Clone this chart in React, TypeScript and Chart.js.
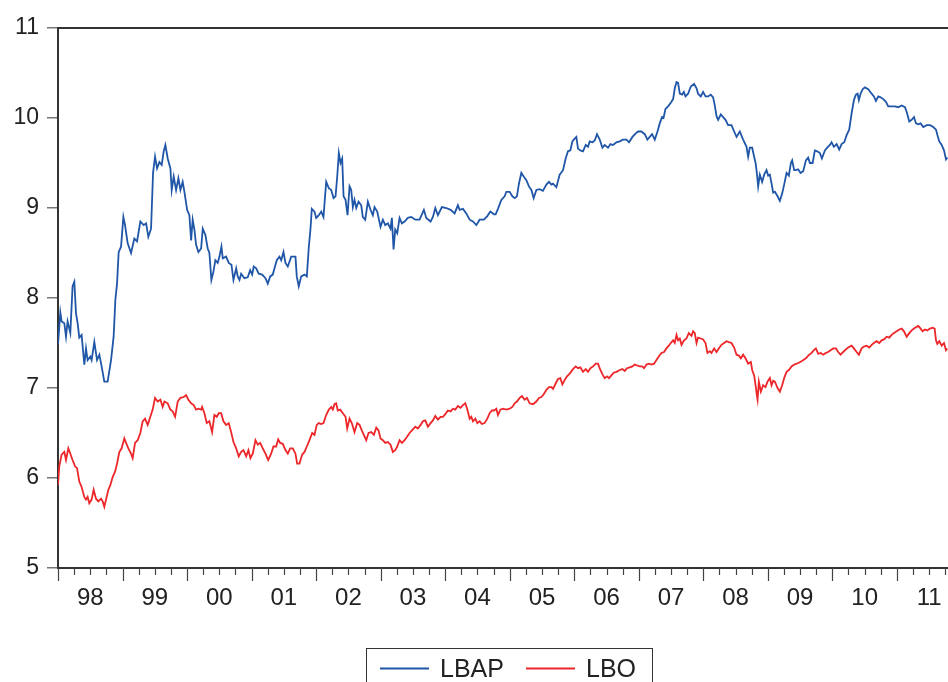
import React, { useEffect, useRef } from 'react';
import { Chart, registerables } from 'chart.js';

Chart.register(...registerables);

const START_YEAR = 1998;
const END_YEAR = 2011.792;
const YEAR_LABELS = ['98', '99', '00', '01', '02', '03', '04', '05', '06', '07', '08', '09', '10', '11'];
const Y_MIN = 5;
const Y_MAX = 11;
const SERIES_NAMES = ['LBAP', 'LBO'];
const SERIES_COLORS = ['#1f56a8', '#ec2629'];

// years since start of 1998
const LBAP_T = [
  0.000, 0.036, 0.056, 0.098, 0.124, 0.149, 0.191, 0.226, 0.253, 0.279, 0.304, 0.330, 0.366, 0.408, 0.434, 0.459,
  0.501, 0.521, 0.563, 0.605, 0.641, 0.676, 0.718, 0.769, 0.822, 0.862, 0.889, 0.915, 0.940, 0.977, 1.013, 1.039,
  1.079, 1.132, 1.183, 1.225, 1.276, 1.328, 1.365, 1.400, 1.442, 1.473, 1.504, 1.535, 1.571, 1.607, 1.638, 1.664,
  1.700, 1.742, 1.762, 1.793, 1.830, 1.866, 1.897, 1.932, 1.959, 2.001, 2.036, 2.063, 2.087, 2.114, 2.140, 2.176,
  2.218, 2.243, 2.284, 2.320, 2.346, 2.377, 2.408, 2.439, 2.475, 2.502, 2.533, 2.553, 2.605, 2.646, 2.688, 2.719,
  2.761, 2.785, 2.812, 2.838, 2.889, 2.940, 2.978, 3.009, 3.033, 3.071, 3.111, 3.164, 3.215, 3.251, 3.288, 3.328,
  3.390, 3.432, 3.459, 3.494, 3.525, 3.561, 3.614, 3.680, 3.700, 3.731, 3.769, 3.820, 3.856, 3.887, 3.913, 3.933,
  3.975, 4.001, 4.042, 4.079, 4.114, 4.156, 4.197, 4.234, 4.270, 4.301, 4.327, 4.352, 4.378, 4.404, 4.425, 4.456,
  4.487, 4.518, 4.544, 4.569, 4.595, 4.622, 4.657, 4.699, 4.724, 4.761, 4.802, 4.843, 4.879, 4.905, 4.947, 4.998,
  5.034, 5.071, 5.112, 5.153, 5.174, 5.200, 5.226, 5.257, 5.293, 5.329, 5.371, 5.422, 5.474, 5.537, 5.603, 5.670,
  5.707, 5.774, 5.810, 5.847, 5.887, 5.949, 6.017, 6.084, 6.146, 6.197, 6.224, 6.275, 6.327, 6.379, 6.430, 6.483,
  6.534, 6.601, 6.653, 6.700, 6.756, 6.782, 6.818, 6.870, 6.921, 6.948, 6.999, 7.041, 7.077, 7.112, 7.143, 7.180,
  7.216, 7.258, 7.298, 7.336, 7.371, 7.413, 7.464, 7.515, 7.568, 7.609, 7.646, 7.671, 7.723, 7.774, 7.826, 7.867,
  7.903, 7.940, 7.971, 8.007, 8.033, 8.058, 8.095, 8.136, 8.178, 8.213, 8.240, 8.282, 8.317, 8.353, 8.395, 8.437,
  8.472, 8.524, 8.561, 8.601, 8.654, 8.705, 8.756, 8.809, 8.849, 8.902, 8.953, 8.989, 9.041, 9.093, 9.134, 9.170,
  9.206, 9.248, 9.290, 9.325, 9.361, 9.383, 9.414, 9.454, 9.496, 9.532, 9.558, 9.585, 9.609, 9.636, 9.671, 9.698,
  9.724, 9.764, 9.806, 9.857, 9.895, 9.919, 9.961, 9.997, 10.034, 10.075, 10.116, 10.152, 10.178, 10.205, 10.230, 10.271,
  10.307, 10.344, 10.385, 10.437, 10.478, 10.515, 10.566, 10.617, 10.670, 10.695, 10.721, 10.757, 10.788, 10.810, 10.830, 10.850,
  10.876, 10.912, 10.943, 10.980, 11.005, 11.031, 11.058, 11.083, 11.109, 11.151, 11.186, 11.222, 11.253, 11.290, 11.326, 11.357,
  11.377, 11.408, 11.435, 11.470, 11.507, 11.548, 11.590, 11.625, 11.652, 11.694, 11.729, 11.765, 11.807, 11.838, 11.884, 11.920,
  11.962, 11.988, 12.024, 12.066, 12.106, 12.143, 12.184, 12.221, 12.261, 12.298, 12.334, 12.365, 12.391, 12.411, 12.437, 12.469,
  12.504, 12.556, 12.609, 12.644, 12.675, 12.711, 12.748, 12.789, 12.830, 12.866, 12.919, 12.970, 13.021, 13.074, 13.125, 13.151,
  13.192, 13.229, 13.265, 13.296, 13.331, 13.368, 13.409, 13.462, 13.513, 13.564, 13.606, 13.632, 13.657, 13.694, 13.730, 13.761,
  13.781,
];
const LBAP = [
  7.48, 7.84, 7.74, 7.72, 7.57, 7.74, 7.61, 8.13, 8.18, 7.83, 7.72, 7.56, 7.59, 7.26, 7.44, 7.31,
  7.35, 7.31, 7.51, 7.31, 7.37, 7.24, 7.07, 7.07, 7.31, 7.57, 7.98, 8.16, 8.51, 8.57, 8.90, 8.81,
  8.61, 8.50, 8.66, 8.63, 8.85, 8.81, 8.83, 8.68, 8.77, 9.39, 9.57, 9.44, 9.51, 9.48, 9.63, 9.70,
  9.55, 9.44, 9.20, 9.35, 9.20, 9.33, 9.20, 9.29, 9.18, 8.98, 8.92, 8.64, 8.87, 8.76, 8.59, 8.51,
  8.55, 8.77, 8.70, 8.55, 8.50, 8.20, 8.29, 8.42, 8.39, 8.46, 8.57, 8.44, 8.46, 8.39, 8.37, 8.20,
  8.33, 8.24, 8.20, 8.27, 8.22, 8.23, 8.31, 8.26, 8.35, 8.33, 8.27, 8.26, 8.22, 8.16, 8.24, 8.26,
  8.42, 8.46, 8.42, 8.51, 8.39, 8.35, 8.46, 8.46, 8.24, 8.13, 8.24, 8.26, 8.24, 8.57, 8.77, 8.99,
  8.96, 8.89, 8.92, 8.96, 8.90, 9.29, 9.22, 9.20, 9.11, 9.13, 9.35, 9.61, 9.50, 9.55, 9.13, 9.09,
  8.92, 9.24, 9.20, 9.01, 9.09, 9.00, 9.07, 9.03, 8.90, 8.87, 9.07, 8.98, 8.92, 9.01, 8.96, 8.79,
  8.87, 8.81, 8.83, 8.77, 8.89, 8.54, 8.76, 8.72, 8.89, 8.83, 8.85, 8.89, 8.90, 8.87, 8.87, 8.98,
  8.89, 8.85, 8.90, 9.00, 8.92, 9.01, 9.00, 8.98, 8.94, 9.03, 8.98, 8.99, 8.94, 8.87, 8.85, 8.81,
  8.87, 8.87, 8.91, 8.96, 8.93, 8.93, 8.99, 9.09, 9.13, 9.18, 9.18, 9.13, 9.11, 9.13, 9.27, 9.39,
  9.35, 9.31, 9.24, 9.20, 9.11, 9.20, 9.21, 9.19, 9.26, 9.29, 9.26, 9.27, 9.23, 9.37, 9.42, 9.55,
  9.63, 9.64, 9.74, 9.77, 9.79, 9.66, 9.64, 9.63, 9.70, 9.68, 9.74, 9.73, 9.75, 9.82, 9.76, 9.67,
  9.70, 9.67, 9.71, 9.70, 9.73, 9.74, 9.76, 9.76, 9.73, 9.79, 9.83, 9.85, 9.85, 9.82, 9.76, 9.79,
  9.82, 9.76, 9.85, 9.94, 10.01, 10.00, 10.10, 10.13, 10.17, 10.21, 10.33, 10.40, 10.39, 10.27, 10.26, 10.29,
  10.24, 10.27, 10.35, 10.38, 10.33, 10.27, 10.24, 10.29, 10.24, 10.24, 10.26, 10.23, 10.14, 10.02, 9.98, 10.04,
  10.01, 9.98, 9.92, 9.92, 9.85, 9.79, 9.85, 9.76, 9.68, 9.57, 9.67, 9.67, 9.57, 9.50, 9.39, 9.24,
  9.37, 9.29, 9.37, 9.42, 9.36, 9.37, 9.27, 9.17, 9.18, 9.13, 9.08, 9.16, 9.26, 9.39, 9.36, 9.50,
  9.53, 9.42, 9.42, 9.43, 9.39, 9.41, 9.53, 9.56, 9.50, 9.50, 9.64, 9.63, 9.61, 9.55, 9.64, 9.67,
  9.70, 9.73, 9.68, 9.71, 9.65, 9.71, 9.73, 9.81, 9.87, 10.05, 10.20, 10.26, 10.27, 10.20, 10.27, 10.32,
  10.34, 10.32, 10.27, 10.24, 10.19, 10.24, 10.23, 10.21, 10.18, 10.13, 10.13, 10.13, 10.12, 10.14, 10.12, 10.07,
  9.96, 9.98, 10.01, 9.94, 9.93, 9.94, 9.90, 9.92, 9.92, 9.90, 9.87, 9.80, 9.74, 9.70, 9.64, 9.54,
  9.56,
];

const LBO_T = [
  0.000, 0.020, 0.056, 0.098, 0.124, 0.160, 0.191, 0.226, 0.264, 0.295, 0.330, 0.366, 0.408, 0.434, 0.459, 0.485,
  0.521, 0.552, 0.589, 0.625, 0.667, 0.692, 0.718, 0.744, 0.780, 0.811, 0.847, 0.884, 0.915, 0.951, 0.986, 1.028,
  1.055, 1.090, 1.132, 1.157, 1.194, 1.234, 1.276, 1.312, 1.349, 1.390, 1.431, 1.467, 1.504, 1.545, 1.587, 1.622,
  1.649, 1.700, 1.742, 1.777, 1.815, 1.855, 1.897, 1.948, 1.985, 2.021, 2.063, 2.103, 2.140, 2.176, 2.218, 2.233,
  2.269, 2.305, 2.346, 2.388, 2.424, 2.460, 2.491, 2.528, 2.564, 2.605, 2.646, 2.683, 2.719, 2.761, 2.801, 2.838,
  2.874, 2.916, 2.951, 2.982, 3.018, 3.060, 3.096, 3.133, 3.173, 3.215, 3.257, 3.303, 3.339, 3.381, 3.412, 3.443,
  3.483, 3.525, 3.561, 3.598, 3.638, 3.680, 3.706, 3.742, 3.784, 3.820, 3.856, 3.897, 3.939, 3.975, 4.010, 4.042,
  4.079, 4.114, 4.156, 4.197, 4.234, 4.259, 4.285, 4.311, 4.336, 4.373, 4.414, 4.456, 4.482, 4.518, 4.553, 4.595,
  4.637, 4.673, 4.708, 4.739, 4.777, 4.812, 4.854, 4.895, 4.932, 4.967, 4.998, 5.034, 5.071, 5.112, 5.153, 5.189,
  5.226, 5.257, 5.293, 5.329, 5.371, 5.412, 5.448, 5.499, 5.537, 5.577, 5.619, 5.654, 5.692, 5.732, 5.774, 5.810,
  5.847, 5.887, 5.929, 5.965, 6.002, 6.042, 6.084, 6.120, 6.157, 6.197, 6.239, 6.275, 6.312, 6.343, 6.379, 6.405,
  6.430, 6.467, 6.498, 6.534, 6.569, 6.611, 6.653, 6.689, 6.725, 6.756, 6.793, 6.818, 6.855, 6.895, 6.948, 6.999,
  7.041, 7.077, 7.112, 7.154, 7.190, 7.232, 7.267, 7.309, 7.360, 7.413, 7.453, 7.491, 7.527, 7.568, 7.609, 7.646,
  7.671, 7.712, 7.748, 7.785, 7.816, 7.852, 7.888, 7.930, 7.981, 8.023, 8.058, 8.095, 8.136, 8.178, 8.213, 8.251,
  8.291, 8.333, 8.368, 8.405, 8.446, 8.472, 8.508, 8.539, 8.576, 8.612, 8.654, 8.705, 8.747, 8.783, 8.818, 8.860,
  8.902, 8.937, 8.976, 9.015, 9.051, 9.082, 9.119, 9.155, 9.197, 9.237, 9.274, 9.310, 9.352, 9.392, 9.429, 9.465,
  9.496, 9.532, 9.558, 9.585, 9.609, 9.636, 9.662, 9.702, 9.739, 9.775, 9.817, 9.842, 9.868, 9.895, 9.919, 9.961,
  9.997, 10.034, 10.065, 10.101, 10.127, 10.168, 10.205, 10.240, 10.282, 10.323, 10.360, 10.396, 10.437, 10.478, 10.515, 10.551,
  10.582, 10.617, 10.654, 10.695, 10.737, 10.757, 10.788, 10.810, 10.830, 10.841, 10.861, 10.892, 10.927, 10.964, 10.995, 11.031,
  11.058, 11.083, 11.109, 11.151, 11.186, 11.222, 11.253, 11.290, 11.326, 11.368, 11.408, 11.481, 11.528, 11.590, 11.641, 11.678,
  11.714, 11.745, 11.781, 11.818, 11.858, 11.900, 11.935, 11.973, 12.013, 12.055, 12.090, 12.128, 12.168, 12.210, 12.245, 12.298,
  12.334, 12.376, 12.411, 12.453, 12.489, 12.531, 12.571, 12.609, 12.644, 12.686, 12.726, 12.764, 12.799, 12.841, 12.881, 12.919,
  12.954, 12.996, 13.037, 13.074, 13.110, 13.151, 13.192, 13.229, 13.265, 13.306, 13.331, 13.368, 13.399, 13.435, 13.471, 13.513,
  13.554, 13.585, 13.606, 13.626, 13.657, 13.694, 13.730, 13.761, 13.781,
];
const LBO = [
  5.92, 6.13, 6.26, 6.29, 6.20, 6.33, 6.27, 6.20, 6.13, 6.11, 5.96, 5.90, 5.79, 5.76, 5.79, 5.72,
  5.76, 5.87, 5.77, 5.74, 5.77, 5.74, 5.68, 5.76, 5.87, 5.92, 6.01, 6.07, 6.16, 6.29, 6.33, 6.44,
  6.39, 6.33, 6.27, 6.22, 6.39, 6.42, 6.50, 6.63, 6.66, 6.59, 6.68, 6.76, 6.89, 6.85, 6.87, 6.79,
  6.85, 6.83, 6.76, 6.74, 6.68, 6.85, 6.89, 6.90, 6.92, 6.87, 6.83, 6.81, 6.76, 6.77, 6.76, 6.79,
  6.72, 6.61, 6.63, 6.51, 6.70, 6.68, 6.72, 6.72, 6.63, 6.59, 6.61, 6.51, 6.40, 6.33, 6.24, 6.29,
  6.31, 6.24, 6.31, 6.22, 6.27, 6.42, 6.37, 6.39, 6.33, 6.27, 6.20, 6.27, 6.35, 6.35, 6.43, 6.39,
  6.38, 6.31, 6.27, 6.33, 6.33, 6.27, 6.16, 6.16, 6.26, 6.29, 6.35, 6.42, 6.50, 6.48, 6.59, 6.61,
  6.60, 6.61, 6.70, 6.76, 6.79, 6.76, 6.82, 6.83, 6.75, 6.76, 6.72, 6.68, 6.55, 6.66, 6.61, 6.51,
  6.61, 6.59, 6.53, 6.48, 6.42, 6.50, 6.51, 6.48, 6.56, 6.53, 6.44, 6.42, 6.39, 6.40, 6.37, 6.29,
  6.31, 6.35, 6.42, 6.39, 6.42, 6.46, 6.50, 6.54, 6.57, 6.55, 6.59, 6.63, 6.64, 6.57, 6.61, 6.64,
  6.69, 6.65, 6.68, 6.68, 6.71, 6.75, 6.74, 6.77, 6.76, 6.80, 6.78, 6.81, 6.83, 6.76, 6.66, 6.68,
  6.63, 6.66, 6.61, 6.63, 6.60, 6.61, 6.66, 6.72, 6.75, 6.75, 6.77, 6.70, 6.76, 6.77, 6.76, 6.77,
  6.79, 6.83, 6.85, 6.89, 6.91, 6.87, 6.89, 6.83, 6.82, 6.85, 6.89, 6.90, 6.93, 6.98, 7.01, 7.01,
  6.99, 7.05, 7.10, 7.11, 7.04, 7.09, 7.13, 7.16, 7.21, 7.24, 7.22, 7.23, 7.18, 7.21, 7.18, 7.22,
  7.24, 7.27, 7.27, 7.20, 7.14, 7.11, 7.13, 7.11, 7.14, 7.17, 7.18, 7.20, 7.21, 7.19, 7.22, 7.23,
  7.24, 7.26, 7.25, 7.24, 7.24, 7.22, 7.26, 7.27, 7.26, 7.27, 7.31, 7.35, 7.39, 7.40, 7.44, 7.47,
  7.50, 7.53, 7.50, 7.59, 7.53, 7.55, 7.48, 7.53, 7.55, 7.61, 7.58, 7.63, 7.61, 7.50, 7.56, 7.55,
  7.54, 7.50, 7.39, 7.41, 7.39, 7.44, 7.40, 7.44, 7.48, 7.50, 7.52, 7.51, 7.50, 7.45, 7.37, 7.36,
  7.33, 7.37, 7.33, 7.27, 7.29, 7.20, 7.14, 7.03, 6.92, 6.87, 7.07, 6.96, 7.03, 7.01, 7.07, 7.11,
  7.03, 7.08, 7.07, 7.00, 6.96, 7.03, 7.11, 7.18, 7.20, 7.24, 7.26, 7.28, 7.30, 7.33, 7.37, 7.39,
  7.42, 7.44, 7.38, 7.39, 7.37, 7.39, 7.40, 7.42, 7.44, 7.44, 7.40, 7.37, 7.40, 7.43, 7.45, 7.47,
  7.44, 7.40, 7.37, 7.44, 7.46, 7.47, 7.45, 7.48, 7.50, 7.52, 7.50, 7.53, 7.54, 7.57, 7.56, 7.59,
  7.61, 7.63, 7.65, 7.66, 7.63, 7.57, 7.61, 7.64, 7.66, 7.68, 7.69, 7.66, 7.63, 7.65, 7.64, 7.66,
  7.67, 7.66, 7.53, 7.49, 7.52, 7.47, 7.50, 7.42, 7.44,
];

const FONT = "'Liberation Sans', Arial, Helvetica, sans-serif";
const TEXT_COLOR = '#222';
const AXIS_COLOR = '#333';

const toPoints = (t: number[], v: number[]) => t.map((d, i) => ({ x: START_YEAR + d, y: v[i] }));

const decorPlugin = {
  id: 'decor',
  afterDraw(chart: any) {
    const { ctx, chartArea, scales } = chart;
    const xs = scales.x;
    ctx.save();
    // top frame line
    ctx.strokeStyle = AXIS_COLOR;
    ctx.lineWidth = 2;
    ctx.beginPath();
    ctx.moveTo(chartArea.left - 1, chartArea.top);
    ctx.lineTo(chartArea.right, chartArea.top);
    ctx.stroke();
    // quarterly ticks on the x axis
    ctx.strokeStyle = '#444';
    ctx.lineWidth = 1.2;
    for (let q = 0; START_YEAR + q * 0.25 <= END_YEAR; q++) {
      const px = Math.round(xs.getPixelForValue(START_YEAR + q * 0.25)) + 0.5;
      const len = q % 4 === 0 ? 13 : 7;
      ctx.beginPath();
      ctx.moveTo(px, chartArea.bottom);
      ctx.lineTo(px, chartArea.bottom + len);
      ctx.stroke();
    }
    // legend
    const boxL = 366, boxT = 648, boxR = 652, boxB = 700;
    ctx.strokeStyle = '#333';
    ctx.lineWidth = 1;
    ctx.strokeRect(boxL + 0.5, boxT + 0.5, boxR - boxL, boxB - boxT);
    ctx.font = `25px ${FONT}`;
    ctx.fillStyle = TEXT_COLOR;
    ctx.textBaseline = 'alphabetic';
    ctx.textAlign = 'left';
    const ly = 668.5;
    const entries = [
      { x: 380, tx: 440 },
      { x: 526, tx: 586 },
    ];
    entries.forEach((e, i) => {
      ctx.strokeStyle = SERIES_COLORS[i];
      ctx.lineWidth = 2;
      ctx.beginPath();
      ctx.moveTo(e.x, ly);
      ctx.lineTo(e.x + 49, ly);
      ctx.stroke();
      ctx.fillText(SERIES_NAMES[i], e.tx, 677);
    });
    ctx.restore();
  },
};

export default function App() {
  const ref = useRef<HTMLCanvasElement | null>(null);

  useEffect(() => {
    if (!ref.current) return;
    const chart = new Chart(ref.current, {
      type: 'line',
      data: {
        datasets: [
          {
            label: SERIES_NAMES[0],
            data: toPoints(LBAP_T, LBAP),
            borderColor: SERIES_COLORS[0],
            borderWidth: 1.8,
            pointRadius: 0,
            tension: 0,
            fill: false,
          },
          {
            label: SERIES_NAMES[1],
            data: toPoints(LBO_T, LBO),
            borderColor: SERIES_COLORS[1],
            borderWidth: 1.8,
            pointRadius: 0,
            tension: 0,
            fill: false,
          },
        ],
      },
      options: {
        animation: false,
        responsive: false,
        maintainAspectRatio: false,
        parsing: false as any,
        layout: { padding: { top: 28, left: 0, right: 0, bottom: 0 } },
        plugins: { legend: { display: false }, tooltip: { enabled: false } },
        scales: {
          x: {
            type: 'linear',
            min: START_YEAR,
            max: END_YEAR,
            afterBuildTicks: (s: any) => {
              s.ticks = YEAR_LABELS.map((_, i) => ({ value: START_YEAR + i + 0.5 }));
            },
            afterFit: (s: any) => {
              s.height = 114;
              s.paddingLeft = 0;
              s.paddingRight = 0;
            },
            ticks: {
              autoSkip: false,
              maxRotation: 0,
              padding: 16,
              color: TEXT_COLOR,
              font: { family: FONT, size: 24 },
              callback: (v: any) => YEAR_LABELS[Math.floor(Number(v) - START_YEAR)],
            },
            grid: { display: false, drawTicks: false },
            border: { display: true, color: AXIS_COLOR, width: 2 },
          },
          y: {
            type: 'linear',
            min: Y_MIN,
            max: Y_MAX,
            afterFit: (s: any) => {
              s.width = 58;
              s.paddingTop = 0;
              s.paddingBottom = 0;
            },
            ticks: {
              stepSize: 1,
              padding: 8,
              color: TEXT_COLOR,
              font: { family: FONT, size: 23 },
            },
            grid: { drawOnChartArea: false, drawTicks: true, tickLength: 11, color: '#777', lineWidth: 1.5 },
            border: { display: true, color: AXIS_COLOR, width: 2 },
          },
        },
      },
      plugins: [decorPlugin],
    });
    return () => chart.destroy();
  }, []);

  return (
    <div style={{ position: 'fixed', left: 0, top: 0, width: 948, height: 682, background: '#fff', overflow: 'hidden' }}>
      <canvas ref={ref} width={948} height={682} style={{ display: 'block', width: 948, height: 682 }} />
    </div>
  );
}
